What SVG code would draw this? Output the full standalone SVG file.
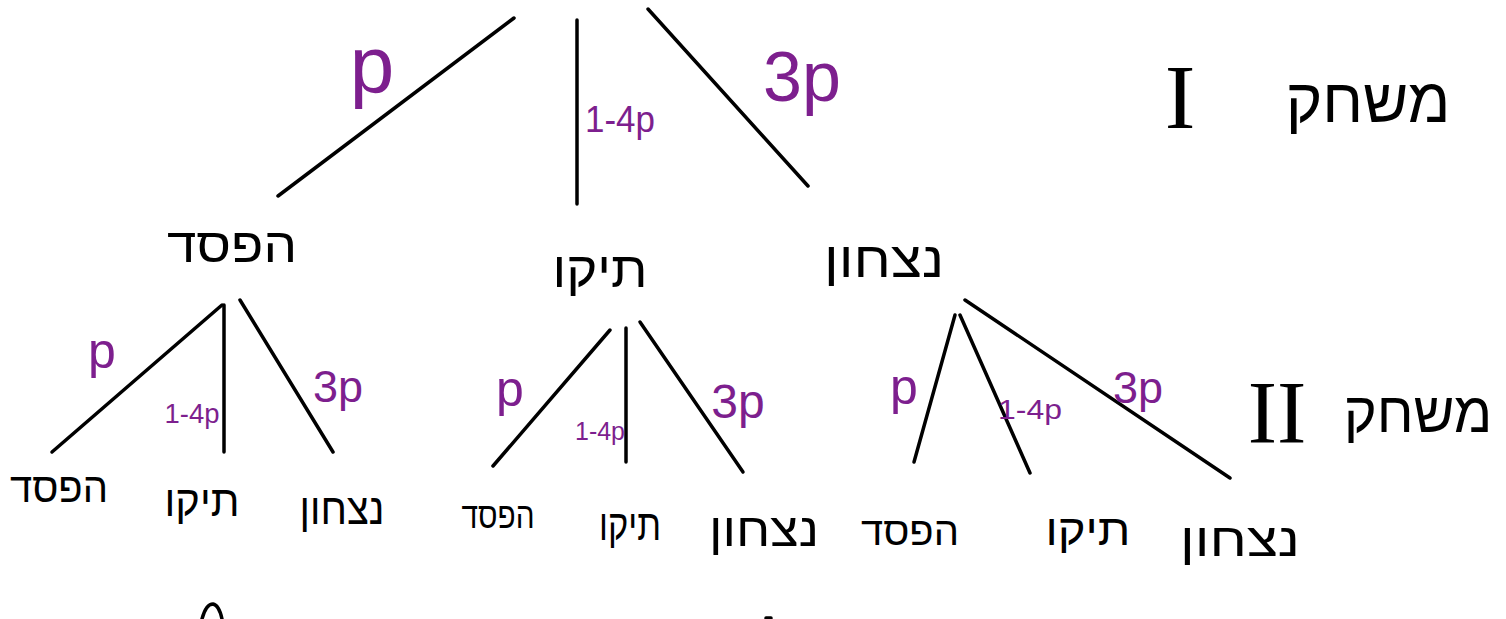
<svg xmlns="http://www.w3.org/2000/svg" width="1506" height="619" viewBox="0 0 1506 619">
<style>
.e{stroke:#000;stroke-width:3.5;stroke-linecap:round;fill:none}
.n{font-family:"Liberation Sans","DejaVu Sans",sans-serif;fill:#000;text-anchor:middle}
.l{font-family:"Liberation Sans","DejaVu Sans",sans-serif;fill:#7d1f8e;text-anchor:middle}
.r{font-family:"Liberation Serif","DejaVu Serif",serif;fill:#000;text-anchor:middle}
</style>
<rect width="1506" height="619" fill="#fff"/>
<g id="connectors">
<line class="e" x1="514" y1="18" x2="278" y2="196"/>
<line class="e" x1="577" y1="20" x2="577" y2="204"/>
<line class="e" x1="648" y1="9" x2="808" y2="186"/>
<line class="e" x1="222" y1="305" x2="52" y2="452"/>
<line class="e" x1="224" y1="305" x2="224" y2="452"/>
<line class="e" x1="240" y1="300" x2="333" y2="452"/>
<line class="e" x1="610" y1="330" x2="493" y2="466"/>
<line class="e" x1="626" y1="328" x2="626" y2="462"/>
<line class="e" x1="640" y1="322" x2="743" y2="472"/>
<line class="e" x1="955" y1="315" x2="914" y2="462"/>
<line class="e" x1="960" y1="315" x2="1030" y2="473"/>
<line class="e" x1="965" y1="300" x2="1230" y2="478"/>
<path class="e" d="M202 619 Q206 604 213 604 Q219 605 222 619"/>
<line class="e" x1="766" y1="618" x2="771" y2="618"/>
</g>
<g id="labels">
<text class="l" x="372" y="92" font-size="80">p</text>
<text class="l" x="620" y="132" font-size="36" textLength="70" lengthAdjust="spacingAndGlyphs">1-4p</text>
<text class="l" x="802" y="101" font-size="70">3p</text>
<text class="l" x="102" y="368" font-size="50">p</text>
<text class="l" x="192" y="423" font-size="28" textLength="55" lengthAdjust="spacingAndGlyphs">1-4p</text>
<text class="l" x="338" y="402" font-size="45">3p</text>
<text class="l" x="510" y="406" font-size="50">p</text>
<text class="l" x="600" y="440" font-size="26" textLength="50" lengthAdjust="spacingAndGlyphs">1-4p</text>
<text class="l" x="738" y="418" font-size="48">3p</text>
<text class="l" x="904" y="404" font-size="50">p</text>
<text class="l" x="1030" y="419" font-size="28" textLength="64" lengthAdjust="spacingAndGlyphs">1-4p</text>
<text class="l" x="1138" y="403" font-size="45">3p</text>
</g>
<g id="n-loss"><text class="n" x="232" y="262" font-size="48" textLength="130" lengthAdjust="spacingAndGlyphs">הפסד</text></g>
<g id="n-draw"><text class="n" x="600" y="287" font-size="50" textLength="95" lengthAdjust="spacingAndGlyphs">תיקו</text></g>
<g id="n-win"><text class="n" x="884" y="277" font-size="50" textLength="120" lengthAdjust="spacingAndGlyphs">נצחון</text></g>
<g id="n-loss-loss"><text class="n" x="59" y="502" font-size="42" textLength="98" lengthAdjust="spacingAndGlyphs">הפסד</text></g>
<g id="n-loss-draw"><text class="n" x="202" y="516" font-size="44" textLength="75" lengthAdjust="spacingAndGlyphs">תיקו</text></g>
<g id="n-loss-win"><text class="n" x="342" y="524" font-size="44" textLength="85" lengthAdjust="spacingAndGlyphs">נצחון</text></g>
<g id="n-draw-loss"><text class="n" x="498" y="528" font-size="36" textLength="73" lengthAdjust="spacingAndGlyphs">הפסד</text></g>
<g id="n-draw-draw"><text class="n" x="630" y="540" font-size="44" textLength="62" lengthAdjust="spacingAndGlyphs">תיקו</text></g>
<g id="n-draw-win"><text class="n" x="764" y="546" font-size="46" textLength="110" lengthAdjust="spacingAndGlyphs">נצחון</text></g>
<g id="n-win-loss"><text class="n" x="910" y="545" font-size="40" textLength="98" lengthAdjust="spacingAndGlyphs">הפסד</text></g>
<g id="n-win-draw"><text class="n" x="1088" y="545" font-size="44" textLength="85" lengthAdjust="spacingAndGlyphs">תיקו</text></g>
<g id="n-win-win"><text class="n" x="1240" y="556" font-size="46" textLength="120" lengthAdjust="spacingAndGlyphs">נצחון</text></g>
<g id="game1">
<text class="r" x="1180" y="128" font-size="92">I</text>
<text class="n" x="1368" y="122" font-size="62">משחק</text>
</g>
<g id="game2">
<text class="r" x="1277" y="442" font-size="88">II</text>
<text class="n" x="1418" y="432" font-size="56">משחק</text>
</g>
</svg>
